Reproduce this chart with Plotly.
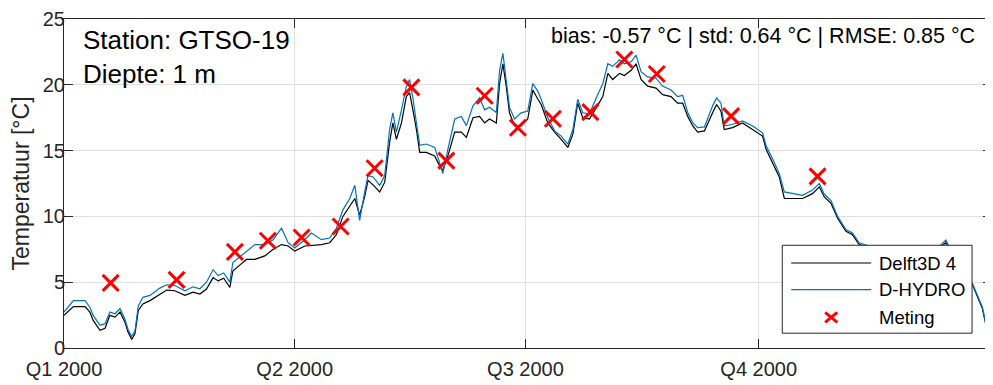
import pandas as pd
import plotly.graph_objects as go

# ---------------- data ----------------
start = pd.Timestamp("2000-01-01")

# model output: days since 2000-01-01
model_day = [0, 3.7, 8.3, 10.2, 11.5, 14.2, 16.2, 18.1, 20.1, 22.1,
             24.0, 25.2, 26.7, 28.0, 29.3, 31.1, 33.9, 37.8, 40.5, 43.7,
             47.7, 50.9, 53.6, 56.2, 58.8, 60.8, 63.0, 65.4, 66.6, 69.3,
             72.0, 75.3, 79.2, 82.5, 85.8, 88.4, 91.0, 95.0, 97.6, 101.5,
             104.8, 107.4, 110.0, 112.7, 114.7, 116.6, 118.6, 119.9, 121.9, 124.5,
             126.5, 128.4, 129.7, 131.1, 133.1, 135.0, 136.3, 137.6, 139.0, 140.3,
             142.9, 146.2, 148.1, 149.4, 151.4, 154.1, 156.7, 158.7, 161.3, 163.9,
             165.9, 167.8, 170.5, 171.8, 173.1, 174.4, 175.7, 177.7, 180.3, 182.9,
             184.9, 186.9, 188.2, 190.8, 193.5, 196.1, 198.7, 200.7, 202.6, 204.6,
             207.2, 209.9, 212.5, 214.5, 216.4, 219.1, 221.0, 223.7, 225.6, 227.6,
             230.2, 233.5, 236.1, 239.4, 242.0, 244.0, 246.0, 248.0, 249.9, 252.6,
             254.5, 255.8, 257.4, 259.1, 260.4, 263.7, 267.6, 271.6, 275.5, 276.9,
             279.5, 282.1, 284.1, 287.4, 291.3, 295.2, 297.9, 299.8, 302.5, 305.1,
             308.4, 311.0, 313.6, 321.5, 329.4, 337.3, 345.2, 347.8, 351.1, 355.0,
             358.3, 362.2, 364.2, 365.5, 366.0]

delft3d = [2.48, 3.15, 3.15, 2.73, 2.1, 1.35, 1.5, 2.48, 2.35, 2.73,
           1.98, 1.23, 0.65, 1.1, 2.85, 3.35, 3.6, 4.1, 4.4, 4.35,
           4.0, 4.25, 4.1, 4.48, 5.35, 5.1, 5.3, 4.6, 5.85, 6.3,
           6.73, 6.73, 7.0, 7.5, 7.86, 7.75, 7.36, 7.75, 7.8, 7.86,
           8.0, 8.6, 10.0, 10.73, 11.36, 10.1, 11.5, 12.74, 12.4, 11.86,
           12.6, 15.6, 17.1, 15.86, 17.1, 19.1, 19.4, 18.1, 16.6, 14.86,
           14.86, 14.6, 13.86, 13.5, 14.6, 16.4, 16.4, 16.0, 17.5, 17.6,
           17.1, 17.4, 17.1, 20.1, 21.6, 19.9, 17.87, 16.87, 16.9, 17.4,
           19.6, 18.9, 18.5, 17.1, 16.4, 15.86, 15.24, 16.25, 18.6, 17.5,
           17.4, 18.25, 19.1, 20.87, 20.4, 20.87, 20.7, 21.1, 21.6, 20.4,
           19.9, 19.75, 19.25, 19.1, 18.6, 18.6, 17.6, 16.87, 16.4, 16.5,
           17.4, 17.87, 18.5, 18.0, 16.6, 16.75, 17.1, 16.6, 16.1, 15.1,
           14.1, 13.0, 11.36, 11.36, 11.36, 11.73, 12.24, 11.5, 11.0, 9.86,
           8.86, 8.6, 7.86, 7.4, 7.6, 7.3, 7.6, 8.0, 6.8, 5.6,
           4.8, 3.0, 1.2, 2.0, 2.5]

dhydro = [2.73, 3.6, 3.6, 3.1, 2.48, 1.73, 1.85, 2.73, 2.6, 3.0,
          2.2, 1.45, 0.85, 1.3, 3.2, 3.85, 4.0, 4.55, 4.8, 4.75,
          4.35, 4.65, 4.5, 5.0, 5.95, 5.5, 5.7, 5.0, 6.5, 6.9,
          7.3, 7.86, 7.86, 8.23, 9.1, 8.0, 7.6, 8.23, 8.73, 8.23,
          8.36, 9.1, 10.5, 11.36, 12.36, 9.7, 11.86, 13.1, 13.0, 12.36,
          13.1, 16.6, 17.87, 16.4, 18.1, 19.86, 20.4, 19.0, 17.1, 15.4,
          15.5, 15.24, 14.1, 13.26, 15.1, 17.4, 17.6, 16.9, 18.4, 19.0,
          18.1, 18.3, 17.9, 21.1, 22.4, 20.4, 18.3, 17.4, 17.87, 18.0,
          20.1, 19.5, 18.9, 17.5, 16.5, 16.1, 15.5, 16.6, 18.9, 17.87,
          17.8, 19.0, 20.1, 21.6, 21.4, 21.9, 21.6, 21.75, 22.25, 21.0,
          20.6, 20.5, 19.9, 19.6, 19.1, 19.2, 17.9, 17.1, 16.75, 16.8,
          17.75, 18.4, 19.0, 18.6, 16.87, 17.0, 17.25, 16.87, 16.35, 15.37,
          14.36, 13.25, 11.86, 11.75, 11.6, 12.0, 12.49, 11.7, 11.2, 10.0,
          9.0, 8.75, 8.0, 7.5, 7.7, 7.4, 7.7, 8.2, 6.9, 5.7,
          4.9, 3.1, 1.3, 2.1, 2.6]

# measurements
meas_day = [18.4, 44.4, 67.4, 80.4, 93.7, 109.1, 122.5, 137.0, 150.8,
            165.9, 179.0, 192.8, 207.6, 221.0, 233.8, 263.1, 297.2]
meas_val = [4.95, 5.18, 7.3, 8.15, 8.4, 9.23, 13.66, 19.8, 14.24,
            19.17, 16.74, 17.42, 17.92, 21.92, 20.82, 17.62, 13.04]

tick_dates = ["2000-01-01", "2000-04-01", "2000-07-01", "2000-10-01"]
tick_labels = ["Q1 2000", "Q2 2000", "Q3 2000", "Q4 2000"]
y_ticks = [0, 5, 10, 15, 20, 25]

series_names = ["Delft3D 4", "D-HYDRO", "Meting"]
station_text = "Station: GTSO-19"
depth_text = "Diepte: 1 m"
stats_text = "bias: -0.57 \u00b0C | std: 0.64 \u00b0C | RMSE: 0.85 \u00b0C"

# ---------------- figure ----------------
model_t = start + pd.to_timedelta(model_day, unit="D")
meas_t = start + pd.to_timedelta(meas_day, unit="D")

FONT = "Arial, Liberation Sans, Helvetica, sans-serif"
DARK = "#262626"
BLUE = "#0072BD"

fig = go.Figure()
fig.add_trace(go.Scatter(x=model_t, y=delft3d, mode="lines", name=series_names[0],
                         line=dict(color="black", width=1.2), showlegend=False))
fig.add_trace(go.Scatter(x=model_t, y=dhydro, mode="lines", name=series_names[1],
                         line=dict(color=BLUE, width=1.2), showlegend=False))
fig.add_trace(go.Scatter(x=meas_t, y=meas_val, mode="markers", name=series_names[2],
                         marker=dict(symbol="x-thin", size=16, color="red",
                                     line=dict(color="red", width=3)),
                         showlegend=False))

# the page body adds an 8 px offset, so the figure is 8 px smaller on each side
fig.update_layout(
    width=985, height=377,
    margin=dict(l=56, r=0, t=7, b=37),
    paper_bgcolor="white", plot_bgcolor="white",
    font=dict(family=FONT, color=DARK, size=20),
)
fig.update_xaxes(
    range=["2000-01-01", "2001-01-01"],
    tickvals=tick_dates, ticktext=tick_labels,
    ticks="inside", ticklen=9, tickwidth=1, tickcolor=DARK,
    showline=True, linecolor=DARK, linewidth=1, mirror="ticks",
    showgrid=True, gridcolor="#e0e0e0", gridwidth=1,
    tickfont=dict(size=20, color=DARK, family=FONT),
    ticklabelstandoff=3, ticklabeloverflow="allow",
    zeroline=False,
)
fig.update_yaxes(
    range=[0, 25], tickvals=y_ticks,
    ticks="inside", ticklen=9, tickwidth=1, tickcolor=DARK,
    showline=True, linecolor=DARK, linewidth=1, mirror="ticks",
    showgrid=True, gridcolor="#e0e0e0", gridwidth=1,
    tickfont=dict(size=20, color=DARK, family=FONT),
    ticklabelstandoff=-6, ticklabeloverflow="allow",
    title=dict(text="Temperatuur [\u00b0C]", font=dict(size=23, color=DARK, family=FONT),
               standoff=10),
    zeroline=False,
)

# text annotations
fig.add_annotation(xref="paper", yref="paper", x=0.0185, y=0.937, text=station_text,
                   showarrow=False, xanchor="left", yanchor="middle",
                   font=dict(size=26, color="black", family=FONT))
fig.add_annotation(xref="paper", yref="paper", x=0.0185, y=0.832, text=depth_text,
                   showarrow=False, xanchor="left", yanchor="middle",
                   font=dict(size=26, color="black", family=FONT))
fig.add_annotation(xref="paper", yref="paper", x=0.9838, y=0.949, text=stats_text,
                   showarrow=False, xanchor="right", yanchor="middle",
                   font=dict(size=21.5, color="black", family=FONT))

# legend box (drawn above the data, like the original)
lx0, lx1, ly0, ly1 = 0.774, 0.9785, 0.045, 0.3123
fig.add_shape(type="rect", xref="paper", yref="paper", x0=lx0, x1=lx1, y0=ly0, y1=ly1,
              fillcolor="white", line=dict(color=DARK, width=1), layer="above")
rows = [0.2583, 0.1772, 0.0931]
sx0, sx1 = 0.7836, 0.8698
fig.add_shape(type="line", xref="paper", yref="paper", x0=sx0, x1=sx1, y0=rows[0], y1=rows[0],
              line=dict(color="black", width=1.2), layer="above")
fig.add_shape(type="line", xref="paper", yref="paper", x0=sx0, x1=sx1, y0=rows[1], y1=rows[1],
              line=dict(color=BLUE, width=1.2), layer="above")
cx = (sx0 + sx1) / 2
hw, hh = 0.0065, 0.015
fig.add_shape(type="line", xref="paper", yref="paper", x0=cx - hw, x1=cx + hw,
              y0=rows[2] - hh, y1=rows[2] + hh, line=dict(color="red", width=3), layer="above")
fig.add_shape(type="line", xref="paper", yref="paper", x0=cx - hw, x1=cx + hw,
              y0=rows[2] + hh, y1=rows[2] - hh, line=dict(color="red", width=3), layer="above")
for name, ry in zip(series_names, rows):
    fig.add_annotation(xref="paper", yref="paper", x=0.8762, y=ry, text=name,
                       showarrow=False, xanchor="left", yanchor="middle",
                       font=dict(size=18.5, color="black", family=FONT))

fig.write_html("out.html")
